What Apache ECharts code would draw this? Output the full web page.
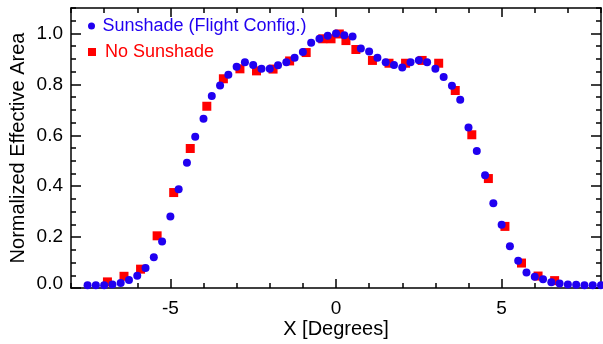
<!DOCTYPE html>
<html>
<head>
<meta charset="utf-8">
<script src="https://cdn.jsdelivr.net/npm/echarts@6/dist/echarts.min.js"></script>
<style>
html,body{margin:0;padding:0;background:#fff;}
#chart{width:603px;height:344px;}
</style>
</head>
<body>
<div id="chart"></div>
<script>
// ---- data ----
var sunshadeX = [-7.5,-7.25,-7.0,-6.75,-6.5,-6.25,-6.0,-5.75,-5.5,-5.25,-5.0,-4.75,-4.5,-4.25,-4.0,-3.75,-3.5,-3.25,-3.0,-2.75,-2.5,-2.25,-2.0,-1.75,-1.5,-1.25,-1.0,-0.75,-0.5,-0.25,0,0.25,0.5,0.75,1.0,1.25,1.5,1.75,2.0,2.25,2.5,2.75,3.0,3.25,3.5,3.75,4.0,4.25,4.5,4.75,5.0,5.25,5.5,5.75,6.0,6.25,6.5,6.75,7.0,7.25,7.5,7.75,8.0];
var sunshadeY = [0.011,0.011,0.011,0.014,0.020,0.031,0.048,0.079,0.121,0.183,0.281,0.388,0.492,0.594,0.665,0.754,0.796,0.838,0.869,0.887,0.876,0.861,0.861,0.875,0.887,0.905,0.927,0.963,0.979,0.991,1.000,0.993,0.988,0.941,0.929,0.905,0.887,0.876,0.866,0.887,0.895,0.887,0.861,0.829,0.795,0.740,0.631,0.538,0.443,0.333,0.248,0.164,0.107,0.061,0.044,0.034,0.023,0.018,0.014,0.013,0.011,0.011,0.011];
var noSunshadeX = [-6.9,-6.4,-5.9,-5.4,-4.9,-4.4,-3.9,-3.4,-2.9,-2.4,-1.9,-1.4,-0.9,-0.4,-0.15,0.1,0.3,0.6,1.1,1.6,2.1,2.6,3.1,3.6,4.1,4.6,5.1,5.6,6.1,6.6];
var noSunshadeY = [0.024,0.046,0.074,0.205,0.375,0.548,0.714,0.822,0.861,0.853,0.860,0.892,0.925,0.979,0.979,0.998,0.972,0.937,0.894,0.883,0.883,0.894,0.883,0.776,0.602,0.430,0.242,0.098,0.047,0.029];
var xMajorTicks = [-5, 0, 5];
var yMajorTicks = [0, 0.2, 0.4, 0.6, 0.8, 1.0];
var seriesNames = ['Sunshade (Flight Config.)', 'No Sunshade'];
var xTitle = 'X [Degrees]';
var yTitle = 'Normalized Effective Area';

function pairs(xs, ys) { return xs.map(function (x, i) { return [x, ys[i]]; }); }

var FONT = 'Liberation Sans, Arial, Helvetica, sans-serif';
var BLUE = '#2000f0';
var RED = '#ff0000';
var lineStyle = { color: '#000', width: 1.5 };

function xAx(pos, major, extra) {
  var o = {
    type: 'value', position: pos, min: -8, max: 8,
    splitLine: { show: false },
    axisLine: { show: !major, onZero: false, lineStyle: lineStyle },
    axisTick: { show: true, inside: true, length: major ? 9 : 5, lineStyle: lineStyle },
    axisLabel: { show: false }
  };
  if (major) { o.axisTick.customValues = xMajorTicks; }
  else { o.interval = 1; }
  return Object.assign(o, extra || {});
}
function yAx(pos, major, extra) {
  var o = {
    type: 'value', position: pos, min: 0, max: 1.1,
    splitLine: { show: false },
    axisLine: { show: !major, onZero: false, lineStyle: lineStyle },
    axisTick: { show: true, inside: true, length: major ? 10 : 5, lineStyle: lineStyle },
    axisLabel: { show: false }
  };
  if (major) { o.axisTick.customValues = yMajorTicks; }
  else { o.interval = 0.05; }
  return Object.assign(o, extra || {});
}

var chart = echarts.init(document.getElementById('chart'), null, { renderer: 'canvas' });
chart.setOption({
  animation: false,
  backgroundColor: '#fff',
  textStyle: { fontFamily: FONT },
  grid: { left: 71, right: 2, top: 8, bottom: 48, containLabel: false },
  xAxis: [
    xAx('bottom', false, {
      name: xTitle, nameLocation: 'middle', nameGap: 31,
      nameTextStyle: { fontSize: 20, color: '#000', fontFamily: FONT }
    }),
    xAx('bottom', true, {
      axisLabel: {
        show: true, customValues: xMajorTicks, margin: 11,
        fontSize: 19, color: '#000', fontFamily: FONT,
        formatter: function (v) { return String(v); }
      }
    }),
    xAx('top', false),
    xAx('top', true)
  ],
  yAxis: [
    yAx('left', false, {
      name: yTitle, nameLocation: 'middle', nameGap: 43,
      nameTextStyle: { fontSize: 20, color: '#000', fontFamily: FONT }
    }),
    yAx('left', true, {
      axisLabel: {
        show: true, customValues: yMajorTicks, margin: 8,
        fontSize: 19, color: '#000', fontFamily: FONT,
        formatter: function (v) {
          return v === 0 ? '{z|' + v.toFixed(1) + '}' : v.toFixed(1);
        },
        rich: { z: { fontSize: 19, color: '#000', fontFamily: FONT, padding: [0, 0, 9, 0] } }
      }
    }),
    yAx('right', false),
    yAx('right', true)
  ],
  legend: [
    {
      data: [{ name: seriesNames[0], textStyle: { color: BLUE } }],
      left: 88, top: 16, padding: 0, orient: 'vertical',
      icon: 'circle', itemWidth: 12, itemHeight: 7,
      textStyle: { fontSize: 18, fontFamily: FONT, lineHeight: 20, color: BLUE }
    },
    {
      data: [{ name: seriesNames[1], textStyle: { color: RED } }],
      left: 88, top: 42, padding: 0, orient: 'vertical',
      icon: 'rect', itemWidth: 8, itemHeight: 8,
      textStyle: { fontSize: 18, fontFamily: FONT, lineHeight: 20, color: RED, padding: [0, 0, 0, 4] }
    }
  ],
  series: [
    {
      name: seriesNames[1], type: 'scatter', xAxisIndex: 0, yAxisIndex: 0,
      symbol: 'rect', symbolSize: 9, itemStyle: { color: RED, opacity: 1 },
      data: pairs(noSunshadeX, noSunshadeY), z: 2
    },
    {
      name: seriesNames[0], type: 'scatter', xAxisIndex: 0, yAxisIndex: 0,
      symbol: 'circle', symbolSize: 8, itemStyle: { color: BLUE, opacity: 1 },
      data: pairs(sunshadeX, sunshadeY), z: 3
    }
  ]
});
</script>
</body>
</html>
